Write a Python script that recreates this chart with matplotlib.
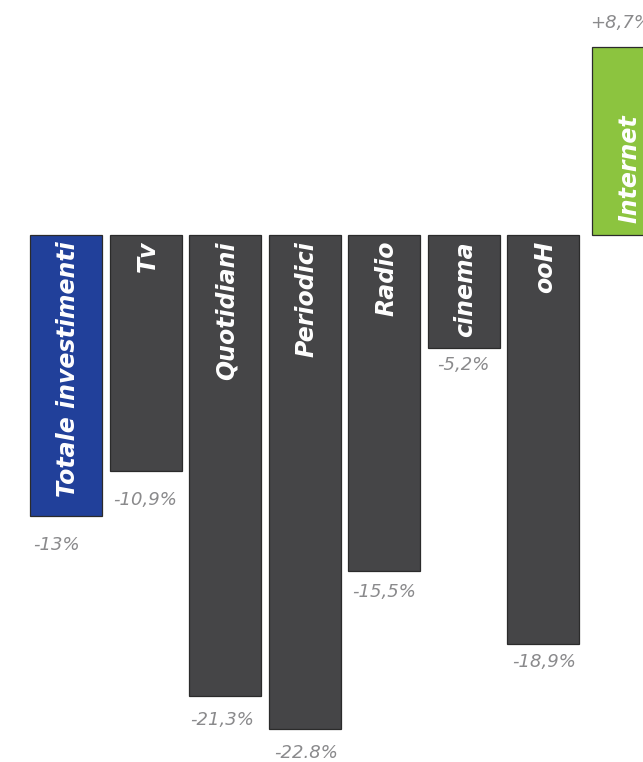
import matplotlib
matplotlib.use("Agg")
import matplotlib.pyplot as plt
import numpy as np

# Variazione degli investimenti pubblicitari per mezzo (%)
categories = ["Totale investimenti", "Tv", "Quotidiani", "Periodici",
              "Radio", "cinema", "ooH", "Internet"]
values = [-13.0, -10.9, -21.3, -22.8, -15.5, -5.2, -18.9, 8.7]
value_labels = ["-13%", "-10,9%", "-21,3%", "-22.8%", "-15,5%",
                "-5,2%", "-18,9%", "+8,7%"]

BLUE = "#21409a"
GREY = "#454547"
GREEN = "#8cc43f"
colors = [BLUE] + [GREY] * 6 + [GREEN]

W, H, DPI = 643, 762, 100
fig = plt.figure(figsize=(W / DPI, H / DPI), dpi=DPI)
ax = fig.add_axes([0, 0, 1, 1])

# layout in pixel units
step = 79.5
first_center = 66
bar_w = 72
baseline_px = 235
px_per_unit = 21.65
extra_gap = 5  # a little more air before the growing medium

x = first_center + np.arange(len(values)) * step
x = np.where(np.array(values) > 0, x + extra_gap, x)

ax.set_xlim(0, W)
ax.set_ylim(-(H - baseline_px) / px_per_unit, baseline_px / px_per_unit)
ax.axis("off")

ax.bar(x, values, width=bar_w, color=colors, edgecolor="#2b2b2b",
       linewidth=0.9, zorder=2)

pad_below = [29, 29, 24, 24, 21, 17, 18, 24]
label_dx = [-10, 0, -3, 2, 0, 0, 1, -7]
font = ["DejaVu Sans"]

for xi, v, name, lab, pb, dx in zip(x, values, categories, value_labels,
                                   pad_below, label_dx):
    if v < 0:
        ax.annotate(lab, (xi, v), xytext=(dx, -pb), textcoords="offset pixels",
                    ha="center", va="center", fontsize=13, style="italic",
                    color="#8a8a8c", family=font)
        ax.annotate(name, (xi, 0), xytext=(2, -6), textcoords="offset pixels",
                    ha="center", va="top", rotation=90, fontsize=17,
                    fontweight="bold", style="italic", color="white",
                    family=font, zorder=3)
    else:
        ax.annotate(lab, (xi, v), xytext=(dx, pb), textcoords="offset pixels",
                    ha="center", va="center", fontsize=13, style="italic",
                    color="#8a8a8c", family=font)
        ax.annotate(name, (xi, 0), xytext=(2, 12), textcoords="offset pixels",
                    ha="center", va="bottom", rotation=90, fontsize=17,
                    fontweight="bold", style="italic", color="white",
                    family=font, zorder=3)

fig.savefig("out.png", dpi=DPI, facecolor="white")
